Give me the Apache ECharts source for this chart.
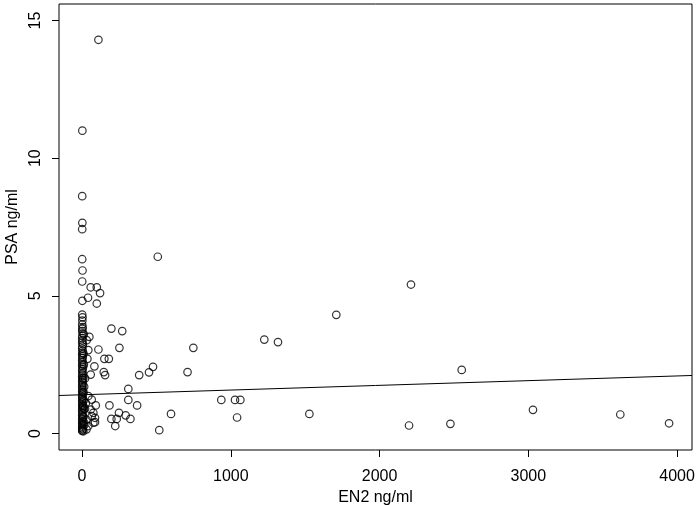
<!DOCTYPE html>
<html>
<head>
<meta charset="utf-8">
<script src="https://cdn.jsdelivr.net/npm/echarts@6/dist/echarts.min.js"></script>
<style>
html, body { margin: 0; padding: 0; background: #fff; }
#main { width: 699px; height: 505px; }
</style>
</head>
<body>
<div id="main"></div>
<script>
// dense column of samples with EN2 close to 0
var columnEN2 = [2, 1, 2, 1, 1, 3, 1, 2, 1, 3, 2, 1, 4, 2, 1, 5, 2, 1, 3, 1,
  6, 2, 1, 4, 2, 1, 5, 2, 1, 3, 2, 1, 6, 2, 1, 4, 2, 1, 3, 2,
  1, 5, 2, 1, 3, 2, 1, 6, 2, 1, 4, 2, 1, 3, 2, 1, 5, 2, 1, 3,
  2, 1, 6, 2, 1, 4, 2, 1, 3, 2, 1, 5, 2, 1, 9, 10, 12, 8, 14, 11,
  13, 9, 15, 12, 10, 8, 14];
var columnPSA = [11.0, 8.62, 7.65, 7.42, 6.33, 5.92, 5.52, 4.82, 4.32, 4.22, 4.1, 3.96, 3.86, 3.8, 3.72, 3.64, 3.55, 3.46, 3.38, 3.3,
  3.24, 3.16, 3.08, 3.0, 2.93, 2.86, 2.8, 2.74, 2.66, 2.6, 2.52, 2.46, 2.4, 2.33, 2.27, 2.2, 2.14, 2.07, 2.01, 1.95,
  1.88, 1.83, 1.77, 1.71, 1.64, 1.58, 1.52, 1.47, 1.41, 1.35, 1.3, 1.24, 1.18, 1.12, 1.06, 1.0, 0.95, 0.9, 0.84, 0.78,
  0.72, 0.66, 0.61, 0.55, 0.5, 0.45, 0.4, 0.35, 0.3, 0.25, 0.2, 0.16, 0.12, 0.09, 0.08, 2.9, 2.5, 2.0, 1.7, 1.2,
  0.9, 0.6, 0.3, 3.6, 1.5, 1.0, 0.4];

// samples with EN2 between roughly 20 and 130
var nearEN2 = [58, 99, 121, 40, 99, 49, 31, 42, 110, 36, 83, 58, 42, 65, 92, 58, 76, 65, 87, 87, 76, 42, 30, 20, 25, 30, 20];
var nearPSA = [5.31, 5.31, 5.10, 4.93, 4.72, 3.51, 3.39, 3.03, 3.05, 2.71, 2.44, 2.14, 1.36, 1.23, 1.02, 0.87, 0.75, 0.63, 0.57, 0.41, 0.39, 0.27, 0.15, 2.0, 1.1, 0.5, 0.9];

// samples with larger EN2
var farEN2 = [110, 509, 197, 270, 251, 748, 150, 180, 146, 155, 384, 450, 477, 709, 311, 311, 184, 370, 248, 293,
  325, 197, 233, 223, 598, 519, 936, 1028, 1064, 1042, 1225, 1317, 1709, 2211, 2552, 1528, 2198, 2476, 3031, 3618, 3946];
var farPSA = [14.3, 6.42, 3.81, 3.72, 3.11, 3.11, 2.71, 2.71, 2.23, 2.12, 2.12, 2.22, 2.42, 2.23, 1.62, 1.22, 1.02, 1.02, 0.75, 0.66,
  0.53, 0.53, 0.53, 0.27, 0.71, 0.12, 1.22, 1.22, 1.22, 0.58, 3.41, 3.32, 4.31, 5.41, 2.31, 0.71, 0.29, 0.35, 0.86, 0.69, 0.37];

// fitted line end points [EN2, PSA]
var fitLine = [[-155, 1.38], [4100, 2.107]];

var xTicks = [0, 1000, 2000, 3000, 4000];
var yTicks = [0, 5, 10, 15];

function pairs(xs, ys) {
  return xs.map(function (x, i) { return [x, ys[i]]; });
}
var points = pairs(columnEN2, columnPSA).concat(pairs(nearEN2, nearPSA), pairs(farEN2, farPSA));

var font = "'Liberation Sans', Arial, sans-serif";
var plain = function (v) { return String(v); };
var myChart = echarts.init(document.getElementById("main"));
var option = {
  animation: false,
  grid: {
    left: 59, right: 7, top: 4, bottom: 55,
    outerBoundsMode: "none",
    show: true, borderColor: "#000", borderWidth: 1, backgroundColor: "transparent"
  },
  xAxis: {
    type: "value",
    min: -155, max: 4100,
    name: "EN2 ng/ml",
    nameLocation: "middle",
    nameGap: 36,
    nameTextStyle: { fontSize: 16, color: "#000", fontFamily: font },
    splitLine: { show: false },
    axisLine: { show: false, onZero: false },
    axisTick: { show: true, customValues: xTicks, length: 7, lineStyle: { color: "#000" } },
    axisLabel: { customValues: xTicks, formatter: plain, fontSize: 16, color: "#000", fontFamily: font, margin: 19 }
  },
  yAxis: {
    type: "value",
    min: -0.6, max: 15.6,
    name: "PSA ng/ml",
    nameLocation: "middle",
    nameGap: 37,
    nameRotate: 90,
    nameTextStyle: { fontSize: 16, color: "#000", fontFamily: font },
    splitLine: { show: false },
    axisLine: { show: false, onZero: false },
    axisTick: { show: true, customValues: yTicks, length: 7, lineStyle: { color: "#000" } },
    axisLabel: { customValues: yTicks, formatter: plain, rotate: 90, fontSize: 16, color: "#000", fontFamily: font, margin: 15 }
  },
  series: [
    {
      type: "scatter",
      data: points,
      symbol: "circle",
      symbolSize: 7.5,
      itemStyle: { color: "rgba(0,0,0,0)", borderColor: "#000", borderWidth: 1.2 },
      emphasis: { disabled: true }
    },
    {
      type: "line",
      data: fitLine,
      showSymbol: false,
      symbol: "none",
      lineStyle: { color: "#000", width: 1 },
      emphasis: { disabled: true }
    }
  ]
};
myChart.setOption(option);
</script>
</body>
</html>
